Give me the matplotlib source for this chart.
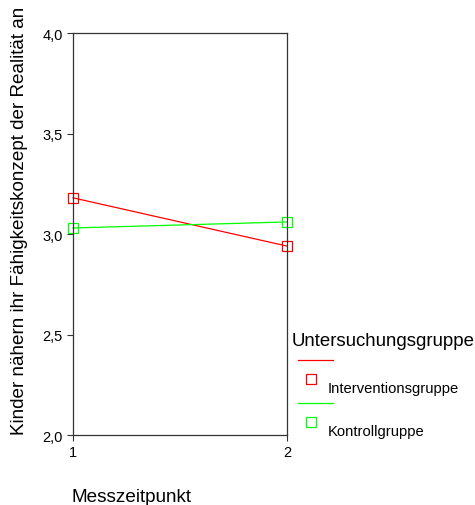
import matplotlib
matplotlib.use('Agg')
import matplotlib.pyplot as plt
from matplotlib.lines import Line2D

plt.rcParams['font.family'] = ['Liberation Sans', 'DejaVu Sans']

# Daten
zeitpunkte = [1, 2]
gruppen = ['Interventionsgruppe', 'Kontrollgruppe']
werte = {
    'Interventionsgruppe': [3.18, 2.94],
    'Kontrollgruppe': [3.03, 3.06],
}
farben = {'Interventionsgruppe': '#ff0000', 'Kontrollgruppe': '#00ff00'}
y_ticks = [2.0, 2.5, 3.0, 3.5, 4.0]
y_labels = ['2,0', '2,5', '3,0', '3,5', '4,0']

fig = plt.figure(figsize=(4.75, 5.06), dpi=100)
ax = fig.add_axes([0.1537, 0.1383, 0.4505, 0.7945])

for g in gruppen:
    ax.plot(zeitpunkte, werte[g], color=farben[g], lw=0.9, marker='s',
            markersize=7, markerfacecolor='none', markeredgecolor=farben[g],
            markeredgewidth=0.9, clip_on=False)

ax.set_xlim(1, 2)
ax.set_ylim(2.0, 4.0)
ax.set_xticks(zeitpunkte)
ax.set_xticklabels(['1', '2'])
ax.set_yticks(y_ticks)
ax.set_yticklabels(y_labels)
ax.tick_params(labelsize=10.5, length=4, width=0.8, color='#333333')
for s in ax.spines.values():
    s.set_color('#333333')
    s.set_linewidth(0.9)

fig.text(0.151, 0.008, 'Messzeitpunkt', fontsize=13.6, ha='left', va='baseline')
fig.text(0.041, 0.563, 'Kinder nähern ihr Fähigkeitskonzept der Realität an',
         fontsize=13.6, rotation=90, ha='center', va='center')

# Legende im SPSS-Stil
fig.text(0.614, 0.325, 'Untersuchungsgruppe', fontsize=13.4, ha='left', va='center')
ys = [0.286, 0.201]
for g, y in zip(gruppen, ys):
    fig.add_artist(Line2D([0.627, 0.701], [y, y], color=farben[g], lw=0.9,
                          transform=fig.transFigure))
    fig.add_artist(Line2D([0.655], [y - 0.036], color=farben[g], marker='s',
                          markersize=7, markerfacecolor='none', markeredgewidth=0.9,
                          linestyle='none', transform=fig.transFigure))
    fig.text(0.69, y - 0.054, g, fontsize=10.6, ha='left', va='center')

fig.savefig('out.png', dpi=100)
